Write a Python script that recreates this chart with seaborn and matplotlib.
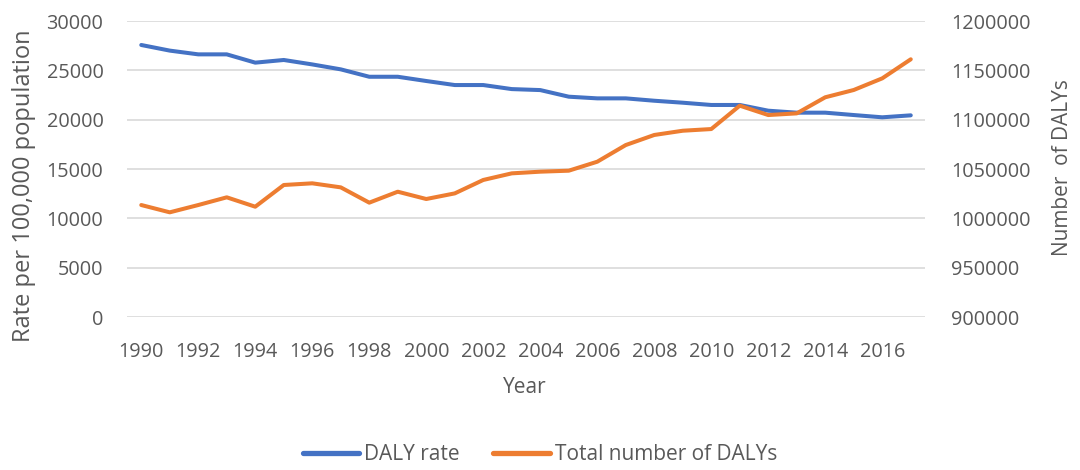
import matplotlib
matplotlib.use("Agg")
import matplotlib.pyplot as plt
import seaborn as sns
import pandas as pd
from matplotlib.lines import Line2D

years = list(range(1990, 2018))
daly_rate = [27570, 27000, 26620, 26620, 25780, 26050, 25600, 25100, 24350, 24350,
             23920, 23510, 23510, 23100, 23000, 22330, 22160, 22160, 21920, 21720,
             21490, 21490, 20910, 20710, 20710, 20470, 20240, 20440]
total_dalys = [1013500, 1006100, 1013500, 1021300, 1011800, 1033800, 1035500, 1031400,
               1015900, 1027000, 1019600, 1025300, 1038900, 1045600, 1047300, 1048300,
               1057400, 1074300, 1084500, 1088800, 1090500, 1114200, 1104700, 1106400,
               1122700, 1130100, 1141900, 1161200]
left_ticks = [0, 5000, 10000, 15000, 20000, 25000, 30000]
right_ticks = [900000, 950000, 1000000, 1050000, 1100000, 1150000, 1200000]
xtick_years = list(range(1990, 2017, 2))

df = pd.DataFrame({"Year": years, "DALY rate": daly_rate, "Total number of DALYs": total_dalys})

sns.set_theme(style="white")
plt.rcParams['font.family'] = ['Open Sans', 'DejaVu Sans']

blue = "#4472C4"
orange = "#ED7D31"
txt = "#595959"
fs = 14.3

fig = plt.figure(figsize=(10.8, 4.7), dpi=100)
ax = fig.add_axes([0.1176, 0.3255, 0.7389, 0.6298])
ax2 = ax.twinx()

sns.lineplot(data=df, x="Year", y="DALY rate", ax=ax, color=blue, linewidth=2.9)
sns.lineplot(data=df, x="Year", y="Total number of DALYs", ax=ax2, color=orange, linewidth=2.9)

ax.set_xlim(1989.5, 2017.5)
ax.set_ylim(0, 30000)
ax2.set_ylim(900000, 1200000)
ax.set_yticks(left_ticks)
ax2.set_yticks(right_ticks)
ax.set_xticks(xtick_years)
ax.set_yticklabels([str(v) for v in left_ticks])
ax2.set_yticklabels([str(v) for v in right_ticks])
ax.set_xticklabels([str(v) for v in xtick_years])

ax.grid(axis="y", color="#d9d9d9", linewidth=1.2)
ax.set_axisbelow(True)
for a in (ax, ax2):
    for s in a.spines.values():
        s.set_visible(False)
    a.set_xlabel("")
    a.set_ylabel("")
ax.tick_params(axis="both", length=0, labelsize=fs, labelcolor=txt)
ax.tick_params(axis="x", pad=18)
ax.tick_params(axis="y", pad=17)
ax2.tick_params(axis="y", length=0, labelsize=fs, labelcolor=txt, pad=19)

fig.text(0.022, 0.604, "Rate per 100,000 population", rotation=90, ha="center", va="center",
         fontsize=17, color=txt)
fig.text(0.984, 0.643, "Number  of DALYs", rotation=90, ha="center", va="center",
         fontsize=15, color=txt)
fig.text(0.486, 0.175, "Year", ha="center", va="center", fontsize=15, color=txt)

handles = [Line2D([0], [0], color=blue, lw=3.8), Line2D([0], [0], color=orange, lw=3.8)]
fig.legend(handles, ["DALY rate", "Total number of DALYs"], loc="center",
           bbox_to_anchor=(0.5, 0.032), ncol=2, frameon=False, fontsize=15,
           handlelength=2.7, columnspacing=1.6, handletextpad=0.25, labelcolor=txt)

fig.savefig("out.png", dpi=100)
